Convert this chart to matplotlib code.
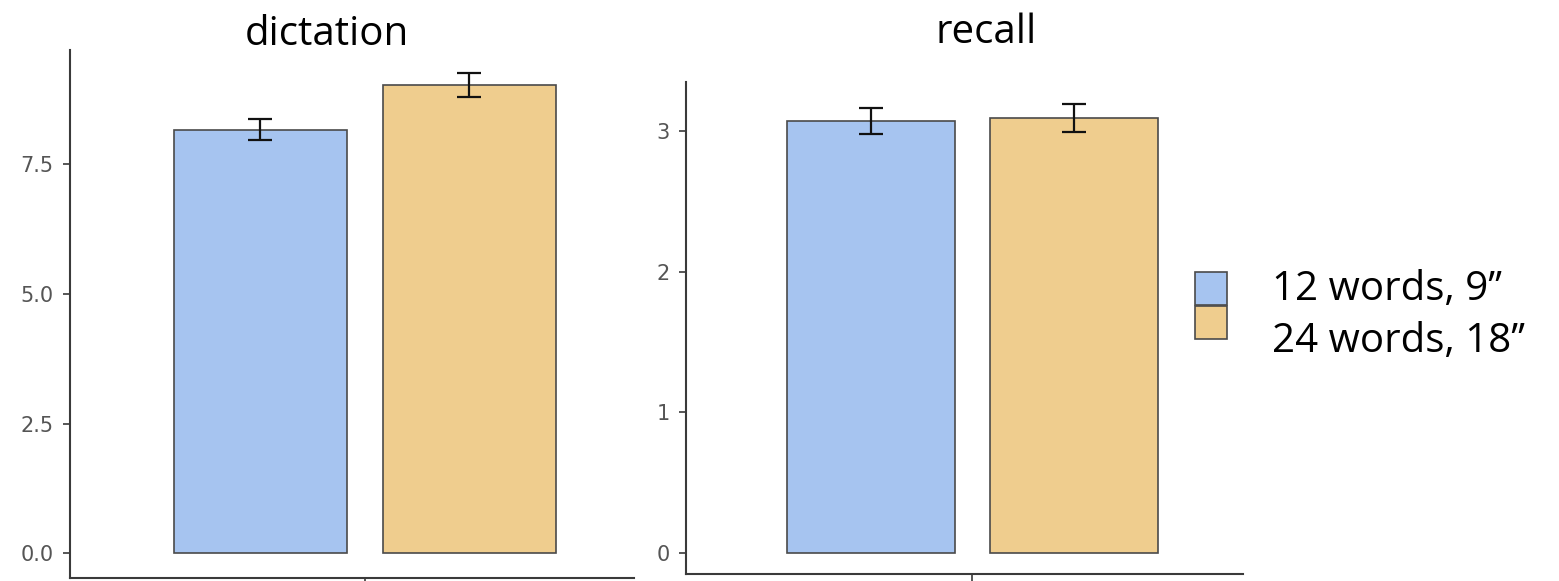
import matplotlib
matplotlib.use("Agg")
import matplotlib.pyplot as plt
from matplotlib.patches import Rectangle

# ---- data ----
conditions = ["12 words, 9\u2019\u2019", "24 words, 18\u2019\u2019"]
panel_titles = ["dictation", "recall"]
dictation_means = [8.17, 9.02]
dictation_se = [0.21, 0.23]
recall_means = [3.07, 3.09]
recall_se = [0.09, 0.10]
dictation_ticks = [0.0, 2.5, 5.0, 7.5]
dictation_ticklabels = ["0.0", "2.5", "5.0", "7.5"]
recall_ticks = [0, 1, 2, 3]
recall_ticklabels = ["0", "1", "2", "3"]

colors = ["#A6C4F0", "#EFCD8E"]
edge = "#4a4a4a"
W, H = 1559, 581
fig = plt.figure(figsize=(W / 100, H / 100), dpi=100)

def px_axes(l, r, t, b):
    return fig.add_axes([l / W, (H - b) / H, (r - l) / W, (b - t) / H])

panels = [
    dict(rect=(69.5, 634, 50, 577.7), means=dictation_means, se=dictation_se,
         ylim=(-0.470, 9.703), xlim=(-1.412, 1.289), width=0.828,
         ticks=dictation_ticks, labels=dictation_ticklabels,
         title_x=326.5, title_y=45),
    dict(rect=(686, 1243, 81.7, 574), means=recall_means, se=recall_se,
         ylim=(-0.1515, 3.350), xlim=(-1.407, 1.330), width=0.826,
         ticks=recall_ticks, labels=recall_ticklabels,
         title_x=986, title_y=43),
]

positions = [-0.5, 0.5]
for p, title in zip(panels, panel_titles):
    ax = px_axes(*p["rect"])
    ax.bar(positions, p["means"], width=p["width"], color=colors,
           edgecolor=edge, linewidth=1.2, zorder=2)
    ax.errorbar(positions, p["means"], yerr=p["se"], fmt="none",
                ecolor="#111111", elinewidth=1.6, capsize=8.5, capthick=1.6,
                zorder=3)
    ax.set_xlim(*p["xlim"])
    ax.set_ylim(*p["ylim"])
    ax.set_yticks(p["ticks"])
    ax.set_yticklabels(p["labels"], fontsize=15, color="#555555",
                       family="DejaVu Sans")
    ax.set_xticks([0])
    ax.set_xticklabels([""])
    for s in ["top", "right"]:
        ax.spines[s].set_visible(False)
    for s in ["left", "bottom"]:
        ax.spines[s].set_color("#3a3a3a")
        ax.spines[s].set_linewidth(1.5)
    ax.tick_params(axis="both", direction="out", length=4.7, width=1.2,
                   color="#3a3a3a", pad=7)
    ax.patch.set_visible(False)
    fig.text(p["title_x"] / W, (H - p["title_y"]) / H, title,
             ha="center", va="baseline", fontsize=29, family="Open Sans",
             color="black")

# ---- legend (manual, figure coordinates) ----
sw_left, sw_w = 1195, 32
sw_tops = [272, 306]
sw_h = 33
text_x = 1272
text_baselines = [300, 352]
for lab, col, top, base in zip(conditions, colors, sw_tops, text_baselines):
    fig.patches.append(Rectangle((sw_left / W, (H - top - sw_h) / H),
                                 sw_w / W, sw_h / H, transform=fig.transFigure,
                                 facecolor=col, edgecolor=edge, linewidth=1.2))
    fig.text(text_x / W, (H - base) / H, lab, ha="left", va="baseline",
             fontsize=29, family="Open Sans", color="black")

fig.savefig("out.png", dpi=100)
